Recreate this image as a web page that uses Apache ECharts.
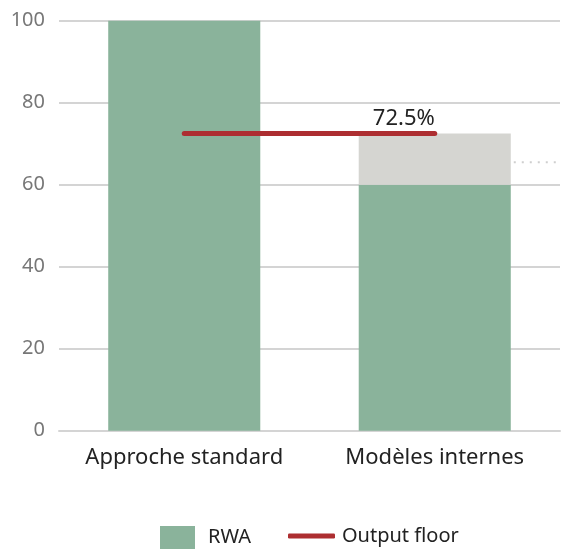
<!DOCTYPE html>
<html><head><meta charset="utf-8">
<script src="https://cdn.jsdelivr.net/npm/echarts@6/dist/echarts.min.js"></script>
<style>html,body{margin:0;padding:0;background:#fff}#c{width:562px;height:549px}</style>
</head><body><div id="c"></div>
<script>
const categories = ['Approche standard', 'Modèles internes'];
const rwa = [100, 60];
const gap = [0, 12.5];
const outputFloor = [72.5, 72.5];
const floorLabel = '72.5%';
const dottedLevel = [65.5];
const yTicks = [0, 20, 40, 60, 80, 100];

const FONT = 'Noto Sans';
const BAR_RATIO = 0.607;
const chart = echarts.init(document.getElementById('c'));
chart.setOption({
  animation: false,
  textStyle: { fontFamily: FONT },
  grid: { left: 59, right: 2, top: 20.7, bottom: 118.3 },
  legend: [
    { data: [{ name: 'RWA', icon: 'rect' }], left: 155, top: 521, itemWidth: 35, itemHeight: 23,
      textStyle: { fontSize: 20, color: '#222', fontFamily: FONT, padding: [0, 0, 0, 8] } },
    { data: [{ name: 'Output floor', icon: 'roundRect' }], left: 283, top: 521, itemWidth: 47, itemHeight: 5,
      textStyle: { fontSize: 20, color: '#222', fontFamily: FONT, padding: [0, 0, 0, 2] } }
  ],
  xAxis: {
    type: 'category', data: categories,
    axisLine: { show: true, lineStyle: { color: '#d4d4d4', width: 2 } },
    axisTick: { show: false },
    axisLabel: { interval: 0, fontSize: 22, color: '#222', margin: 16, fontFamily: FONT }
  },
  yAxis: {
    type: 'value', min: yTicks[0], max: yTicks[yTicks.length - 1], interval: 20,
    axisLine: { show: false }, axisTick: { show: false },
    axisLabel: { fontSize: 20, color: '#777', margin: 14, fontFamily: FONT },
    splitLine: { lineStyle: { color: '#d4d4d4', width: 2 } }
  },
  series: [
    { name: 'RWA', type: 'bar', stack: 's', data: rwa, barCategoryGap: '39.3%',
      itemStyle: { color: '#8ab39b' } },
    { name: 'gap', type: 'bar', stack: 's', data: gap,
      itemStyle: { color: '#d5d5d1' } },
    { name: 'Output floor', type: 'line', symbol: 'circle', symbolSize: 0, showSymbol: true, z: 5,
      data: outputFloor.map((v, i) => i === outputFloor.length - 1
        ? { value: v, label: { show: true, formatter: floorLabel, position: 'top', align: 'right',
            distance: 4, offset: [0, 0], fontSize: 22, color: '#222', fontFamily: FONT } }
        : v),
      lineStyle: { color: '#ad2e31', width: 5, cap: 'round' }, itemStyle: { color: '#ad2e31' } },
    { name: 'dotted', type: 'custom', data: dottedLevel.map(v => [1, v]), z: 1,
      renderItem: function (params, api) {
        const p = api.coord([api.value(0), api.value(1)]);
        const bw = api.size([1, 0])[0];
        const x0 = p[0] + bw * BAR_RATIO / 2 + 3;
        const x1 = params.coordSys.x + params.coordSys.width;
        return { type: 'line', shape: { x1: x0, y1: p[1], x2: x1, y2: p[1] },
          style: { stroke: '#cfcfcf', lineWidth: 2, lineDash: [2, 6] } };
      } }
  ]
});
</script></body></html>
